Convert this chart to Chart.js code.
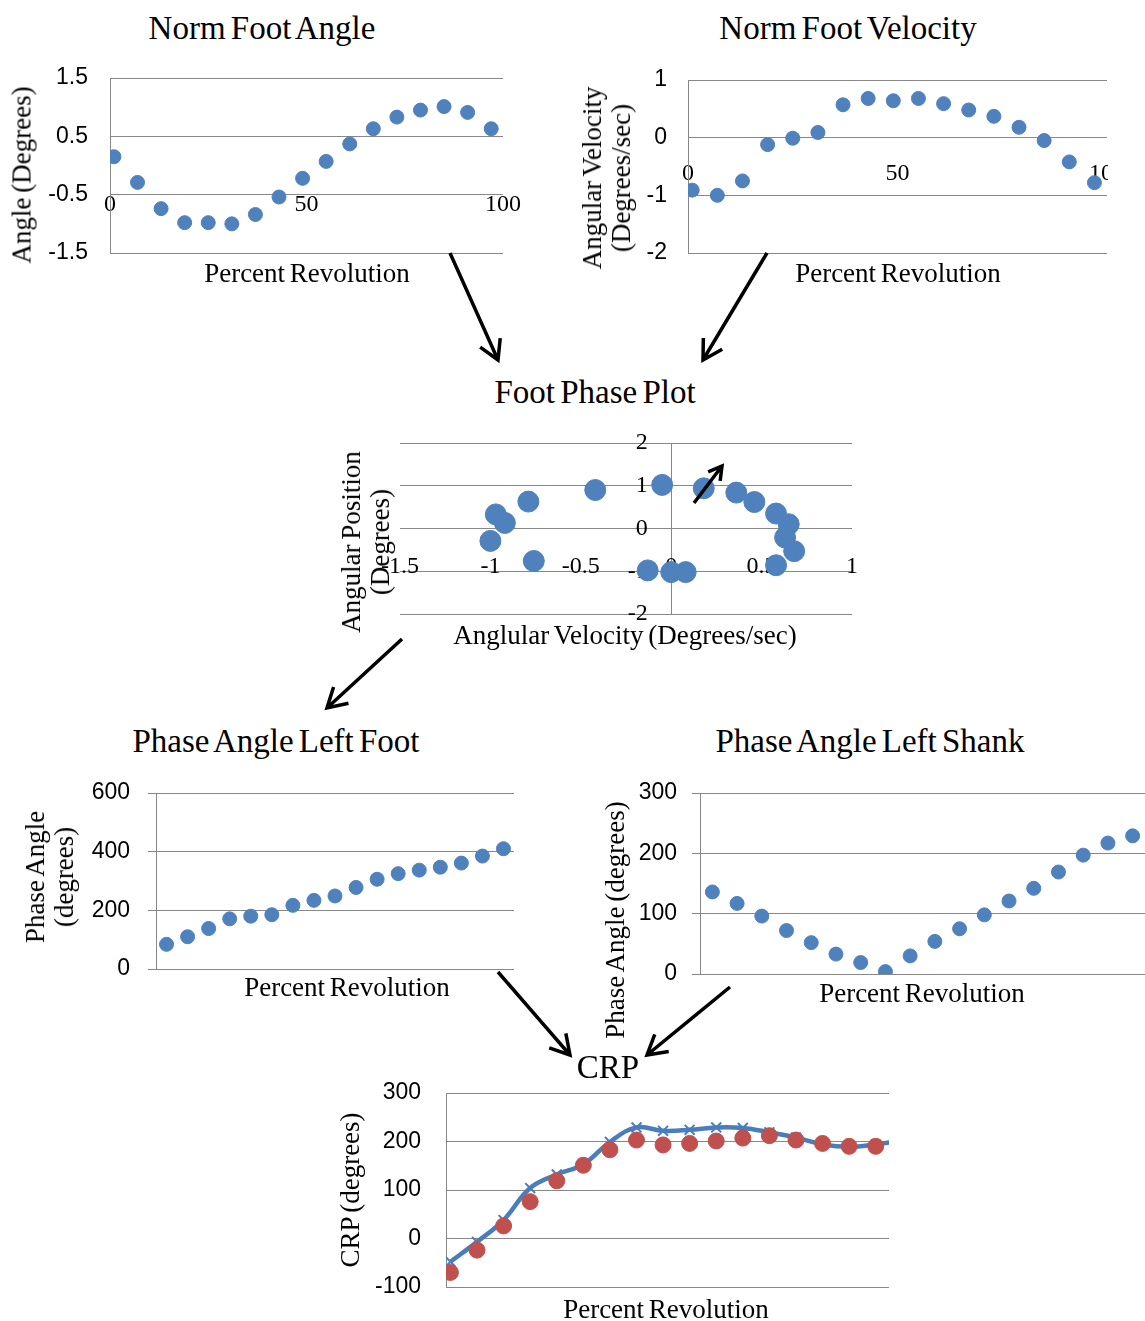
<!DOCTYPE html>
<html lang="en">
<head>
<meta charset="UTF-8">
<title>Foot and Shank Coordination</title>
<script src="https://cdn.jsdelivr.net/npm/chart.js@4"></script>
<style>
    body {
        margin: 0;
        background: #fff;
    }

    #page {
        position: relative;
        width: 1145px;
        height: 1321px;
        overflow: hidden;
        font-family: "Liberation Serif", "Times New Roman", serif;
        color: #000;
    }

    .box {
        position: absolute;
        overflow: hidden;
    }

    .label {
        position: absolute;
        white-space: nowrap;
        transform: translate(-50%, -50%);
        font-size: 27px;
        line-height: 29px;
        text-align: center;
        word-spacing: -2px;
    }

    .label.vert {
        transform: translate(-50%, -50%) rotate(-90deg);
    }

    .title {
        font-size: 33px;
        line-height: 36px;
        word-spacing: -3px;
    }

    #arrows {
        position: absolute;
        left: 0;
        top: 0;
    }
</style>
</head>
<body>
<div id="page">

    <!-- top row -->
    <div class="label title" style="left:262px;top:28px">Norm Foot Angle</div>
    <div class="label title" style="left:848px;top:28px">Norm Foot Velocity</div>
    <div class="box" style="left:0;top:60px;width:540px;height:220px">
        <canvas id="angleChart" width="540" height="220"></canvas>
    </div>
    <div class="box" style="left:570px;top:60px;width:538px;height:220px">
        <canvas id="velocityChart" width="575" height="220"></canvas>
    </div>
    <div class="label" style="left:307px;top:273px">Percent Revolution</div>
    <div class="label vert" style="left:22px;top:175px">Angle (Degrees)</div>
    <div class="label" style="left:898px;top:273px">Percent Revolution</div>
    <div class="label vert" style="left:607px;top:178px">Angular Velocity<br>(Degrees/sec)</div>

    <!-- phase plot -->
    <div class="label title" style="left:595px;top:392px">Foot Phase Plot</div>
    <div class="box" style="left:330px;top:420px;width:540px;height:220px">
        <canvas id="phaseChart" width="540" height="220"></canvas>
    </div>
    <div class="label" style="left:625px;top:635px">Anglular Velocity (Degrees/sec)</div>
    <div class="label vert" style="left:366px;top:542px">Angular Position<br>(Degrees)</div>

    <!-- phase angles -->
    <div class="label title" style="left:276px;top:741px">Phase Angle Left Foot</div>
    <div class="label title" style="left:870px;top:741px">Phase Angle Left Shank</div>
    <div class="box" style="left:0;top:770px;width:540px;height:220px">
        <canvas id="footPhaseChart" width="540" height="220"></canvas>
    </div>
    <div class="box" style="left:590px;top:770px;width:555px;height:220px">
        <canvas id="shankPhaseChart" width="555" height="220"></canvas>
    </div>
    <div class="label" style="left:347px;top:987px">Percent Revolution</div>
    <div class="label vert" style="left:50px;top:877px">Phase Angle<br>(degrees)</div>
    <div class="label" style="left:922px;top:993px">Percent Revolution</div>
    <div class="label vert" style="left:615px;top:920px">Phase Angle (degrees)</div>

    <!-- CRP -->
    <div class="label title" style="left:608px;top:1067px">CRP</div>
    <div class="box" style="left:330px;top:1075px;width:580px;height:230px">
        <canvas id="crpChart" width="580" height="230"></canvas>
    </div>
    <div class="label" style="left:666px;top:1309px">Percent Revolution</div>
    <div class="label vert" style="left:350px;top:1190px">CRP (degrees)</div>

    <svg id="arrows" width="1145" height="1321"></svg>
</div>

<script>
    // Sample positions (percent of a revolution)
    const revPct = [1, 7, 13, 19, 25, 31, 37, 43, 49, 55, 61, 67, 73, 79, 85, 91, 97];

    // Normalised foot angle and velocity
    const footAngle = [0.15, -0.29, -0.74, -0.98, -0.98, -1.0, -0.84, -0.54, -0.22, 0.07, 0.37, 0.63, 0.83, 0.95, 1.01, 0.91, 0.63];
    const footVelocity = [-0.91, -1.0, -0.75, -0.12, -0.01, 0.09, 0.57, 0.68, 0.64, 0.68, 0.59, 0.48, 0.37, 0.18, -0.05, -0.42, -0.78];

    // Phase plot (velocity, position)
    const phaseVelocity = [-0.97, -0.92, -1.0, -0.79, -0.76, -0.42, -0.05, -0.13, 0, 0.08, 0.18, 0.36, 0.46, 0.58, 0.65, 0.63, 0.68, 0.58];
    const phasePosition = [0.33, 0.13, -0.29, 0.63, -0.76, 0.90, 1.02, -0.98, -1.02, -1.02, 0.94, 0.84, 0.62, 0.35, 0.10, -0.21, -0.53, -0.86];

    // Phase angles
    const footSamples = ['1', '2', '3', '4', '5', '6', '7', '8', '9', '10', '11', '12', '13', '14', '15', '16', '17'];
    const footPhase = [84, 110, 138, 171, 180, 185, 217, 234, 249, 278, 306, 325, 337, 347, 361, 385, 410];
    const shankSamples = ['1', '2', '3', '4', '5', '6', '7', '8', '9', '10', '11', '12', '13', '14', '15', '16', '17', '18'];
    const shankPhase = [136, 117, 96, 72, 52, 33, 19, 4, 30, 54, 75, 98, 121, 142, 169, 197, 217, 229];

    // CRP
    const crpPct = [1, 7, 13, 19, 25, 31, 37, 43, 49, 55, 61, 67, 73, 79, 85, 91, 97, 103];
    const crpCurve = [-48, -7, 38, 104, 132, 153, 199, 229, 222, 224, 229, 228, 219, 208, 194, 189, 194, 202];
    const crpPoints = [-70, -24, 26, 76, 119, 151, 183, 203, 193, 196, 201, 207, 212, 203, 196, 190, 190];

    // Annotation arrows: x1, y1, x2, y2, head length
    const arrows = [
        [450, 253, 498, 360, 22],
        [767, 253, 703, 360, 22],
        [694, 503, 722, 466, 15],
        [402, 639, 327, 708, 22],
        [498, 972, 570, 1055, 22],
        [730, 987, 647, 1055, 22]
    ];

    const grey = '#878787';
    const blue = '#4f81bd';
    const sans = { family: '"Liberation Sans", Arial, sans-serif', size: 23 };
    const serif = { family: '"Liberation Serif", "Times New Roman", serif', size: 24 };

    function plain(value) {
        return String(value);
    }

    function baseOptions(padding, scales) {
        return {
            responsive: false,
            animation: false,
            devicePixelRatio: 1,
            layout: { padding: padding, autoPadding: false },
            plugins: { legend: { display: false }, tooltip: { enabled: false } },
            scales: scales
        };
    }

    function leftAxis(min, max, step, width, pad, tickMarks) {
        return {
            min: min,
            max: max,
            ticks: { stepSize: step, font: sans, color: '#000', padding: pad },
            grid: { color: grey, drawTicks: !!tickMarks, tickLength: 8 },
            border: { color: grey },
            afterFit: function (scale) {
                scale.width = width;
                // keep the plot area where the layout padding puts it
                scale.paddingTop = 0;
                scale.paddingBottom = 0;
            }
        };
    }

    function pairs(xs, ys) {
        return ys.map(function (y, i) { return { x: xs[i], y: y }; });
    }

    function dots(data, radius) {
        return { data: data, backgroundColor: blue, borderColor: blue, pointRadius: radius, showLine: false };
    }

    // Norm Foot Angle
    new Chart(document.getElementById('angleChart'), {
        type: 'scatter',
        data: { datasets: [dots(pairs(revPct, footAngle), 7)] },
        options: baseOptions({ left: 0, right: 37, top: 18, bottom: 27 }, {
            x: {
                type: 'linear', min: 0, max: 100, position: { y: -0.42 },
                ticks: { stepSize: 50, font: serif, color: '#000', padding: 0 },
                grid: { display: false, drawTicks: false },
                border: { display: false }
            },
            y: leftAxis(-1.5, 1.5, 1, 110, 22)
        })
    });

    // Norm Foot Velocity
    new Chart(document.getElementById('velocityChart'), {
        type: 'scatter',
        data: { datasets: [dots(pairs(revPct, footVelocity), 7)] },
        options: baseOptions({ left: 0, right: 38, top: 20, bottom: 27 }, {
            x: {
                type: 'linear', min: 0, max: 100, position: { y: -0.37 },
                ticks: { stepSize: 50, font: serif, color: '#000', padding: 0 },
                grid: { display: false, drawTicks: false },
                border: { display: false }
            },
            y: leftAxis(-2, 1, 1, 118, 21)
        })
    });

    // Foot Phase Plot
    new Chart(document.getElementById('phaseChart'), {
        type: 'scatter',
        data: { datasets: [dots(pairs(phaseVelocity, phasePosition), 10.5)] },
        options: baseOptions({ left: 70, right: 18, top: 23, bottom: 26 }, {
            x: {
                type: 'linear', min: -1.5, max: 1, position: { y: -0.55 },
                ticks: { stepSize: 0.5, font: serif, color: '#000', padding: 0, callback: plain },
                grid: {
                    drawTicks: false,
                    color: function (c) { return c.tick && c.tick.value === 0 ? grey : 'rgba(0,0,0,0)'; }
                },
                border: { display: false }
            },
            y: {
                min: -2, max: 2, position: { x: -0.13 },
                ticks: { stepSize: 1, font: serif, color: '#000', padding: 0, callback: plain },
                grid: { color: grey, drawTicks: false },
                border: { display: false }
            }
        })
    });

    // Phase Angle Left Foot
    new Chart(document.getElementById('footPhaseChart'), {
        type: 'line',
        data: { labels: footSamples, datasets: [dots(footPhase, 7)] },
        options: baseOptions({ left: 0, right: 26, top: 23, bottom: 21 }, {
            x: { type: 'category', offset: true, display: false },
            y: leftAxis(0, 600, 200, 156, 18, true)
        })
    });

    // Phase Angle Left Shank
    new Chart(document.getElementById('shankPhaseChart'), {
        type: 'line',
        data: { labels: shankSamples, datasets: [dots(shankPhase, 7)] },
        options: baseOptions({ left: 0, right: 0, top: 23, bottom: 16 }, {
            x: { type: 'category', offset: true, display: false },
            y: leftAxis(0, 300, 100, 110, 15, true)
        })
    });

    // CRP
    new Chart(document.getElementById('crpChart'), {
        type: 'line',
        data: {
            datasets: [
                {
                    data: pairs(crpPct, crpPoints),
                    showLine: false,
                    pointRadius: 8,
                    backgroundColor: '#c0504d',
                    borderColor: '#c0504d',
                    order: 1
                },
                {
                    data: pairs(crpPct, crpCurve),
                    borderColor: '#4a7ebb',
                    borderWidth: 4.5,
                    tension: 0.4,
                    fill: false,
                    pointStyle: 'crossRot',
                    pointRadius: 7,
                    pointBorderWidth: 2,
                    pointBorderColor: '#4a7ebb',
                    order: 2
                }
            ]
        },
        options: baseOptions({ left: 0, right: 21, top: 18, bottom: 18 }, {
            x: { type: 'linear', min: 0, max: 100, display: false },
            y: leftAxis(-100, 300, 100, 116, 25)
        })
    });

    // Arrows between the panels
    const svg = document.getElementById('arrows');
    const NS = 'http://www.w3.org/2000/svg';
    arrows.forEach(function (a) {
        const x1 = a[0], y1 = a[1], x2 = a[2], y2 = a[3], len = a[4];
        const ang = Math.atan2(y1 - y2, x1 - x2);
        const spread = Math.PI / 6;
        const d = 'M' + x1 + ',' + y1 + ' L' + x2 + ',' + y2 +
            ' M' + (x2 + len * Math.cos(ang - spread)) + ',' + (y2 + len * Math.sin(ang - spread)) +
            ' L' + x2 + ',' + y2 +
            ' L' + (x2 + len * Math.cos(ang + spread)) + ',' + (y2 + len * Math.sin(ang + spread));
        const path = document.createElementNS(NS, 'path');
        path.setAttribute('d', d);
        path.setAttribute('stroke', '#000');
        path.setAttribute('stroke-width', '3.5');
        path.setAttribute('fill', 'none');
        svg.appendChild(path);
    });
</script>
</body>
</html>
